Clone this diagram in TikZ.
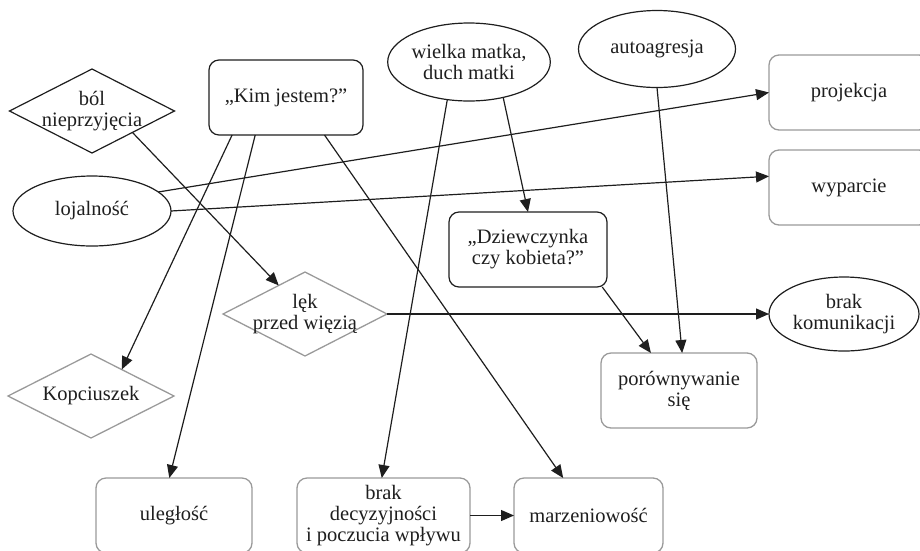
\documentclass[tikz,border=0pt]{standalone}
\usepackage{fontspec}
\setmainfont{Liberation Serif}
\usetikzlibrary{shapes.geometric,arrows.meta,calc}
\definecolor{ink}{HTML}{1E1E1E}
\definecolor{soft}{HTML}{9A9A9A}
\begin{document}
\begin{tikzpicture}[x=1pt,y=-1pt,
  every node/.style={font=\fontsize{20.5}{21}\selectfont, text=ink, align=center,
    inner sep=0pt, outer sep=0pt},
  darkbox/.style={rectangle, rounded corners=10pt, draw=ink, line width=1.2pt,
    minimum height=75pt},
  lightbox/.style={rectangle, rounded corners=10pt, draw=soft, line width=1.3pt,
    minimum height=75pt},
  oval/.style={ellipse, draw=ink, line width=1.2pt},
  darkdiamond/.style={diamond, draw=ink, line width=1.2pt},
  lightdiamond/.style={diamond, draw=soft, line width=1.3pt},
  arr/.style={draw=ink, line width=1.2pt, -{Triangle[length=13pt,width=11pt]}}
]
\useasboundingbox (0,0) rectangle (920,550);
\clip (0,0) rectangle (920,550);

% top row
\node[darkdiamond, minimum width=165pt, minimum height=84pt,
      label={center:{ból\\nieprzyjęcia}}] (bol) at (92,111) {};
\node[darkbox, minimum width=154pt] (kim) at (286,97.5) {„Kim jestem?”};
\node[oval, minimum width=158pt, minimum height=78pt] (wm) at (469,62)
      {wielka matka,\\duch matki};
\node[oval, minimum width=157pt, minimum height=77pt] (aa) at (657,49) {autoagresja};
\node[lightbox, minimum width=160pt] (proj) at (849,92.5) {projekcja};

% middle rows
\node[oval, minimum width=158pt, minimum height=70pt] (loj) at (92,211) {lojalność};
\node[lightbox, minimum width=160pt] (wyp) at (849,187.5) {wyparcie};
\node[darkbox, minimum width=158pt] (dz) at (528,249.5)
      {„Dziewczynka\\czy kobieta?”};
\node[lightdiamond, minimum width=164pt, minimum height=84pt,
      label={center:{lęk\\przed więzią}}] (lek) at (305,314) {};
\node[oval, minimum width=150pt, minimum height=74pt] (bk) at (844,314)
      {brak\\komunikacji};
\node[lightdiamond, minimum width=166pt, minimum height=84pt,
      label={center:{Kopciuszek}}] (kop) at (91,396) {};
\node[lightbox, minimum width=156pt] (por) at (679,390.5) {porównywanie\\się};

% bottom row
\node[lightbox, minimum width=156pt] (ul) at (174,515.5) {uległość};
\node[lightbox, minimum width=173pt] (brak) at (383.5,515.5)
      {brak\\decyzyjności\\i poczucia wpływu};
\node[lightbox, minimum width=149pt] (marz) at (588.5,515.5) {marzeniowość};

% connectors
\draw[arr] ($(bol.east)!0.51!(bol.south)$) -- ($(lek.north)!0.32!(lek.west)$);
\draw[arr] ($(kim.south west)!0.15!(kim.south east)$) -- ($(kop.north)!0.37!(kop.east)$);
\draw[arr] ($(kim.south west)!0.30!(kim.south east)$) -- ($(ul.north west)!0.47!(ul.north east)$);
\draw[arr] ($(kim.south west)!0.75!(kim.south east)$) -- ($(marz.north west)!0.33!(marz.north east)$);
\draw[arr] (loj.16) -- (proj.west);
\draw[arr] (loj.east) -- ($(wyp.north west)!0.35!(wyp.south west)$);
\draw[arr] (wm.240) -- ($(brak.north west)!0.49!(brak.north east)$);
\draw[arr] (wm.314) -- (dz.north);
\draw[arr] (aa.south) -- ($(por.north west)!0.52!(por.north east)$);
\draw[arr] ($(dz.south west)!0.97!(dz.south east)$) -- ($(por.north west)!0.32!(por.north east)$);
\draw[arr] (lek.east) -- (bk.west);
\draw[arr] (brak.east) -- (marz.west);
\end{tikzpicture}
\end{document}
